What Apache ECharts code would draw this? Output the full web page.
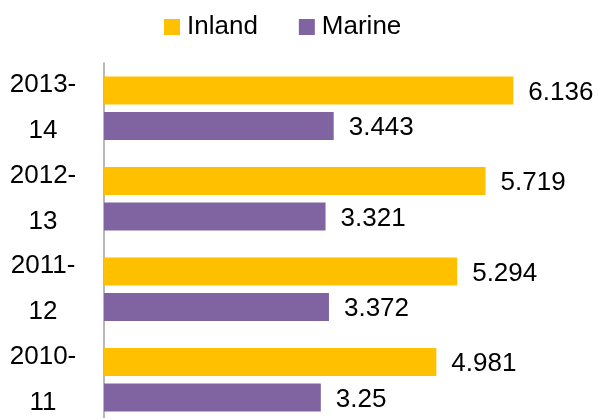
<!DOCTYPE html>
<html>
<head>
<meta charset="utf-8">
<script src="https://cdn.jsdelivr.net/npm/echarts@6/dist/echarts.min.js"></script>
<style>
  html, body { margin: 0; padding: 0; background: #fff; }
  #chart { width: 599px; height: 418px; }
</style>
</head>
<body>
<div id="chart"></div>
<script>
// Fish production by year (million tonnes)
const years = ['2013-14', '2012-13', '2011-12', '2010-11'];
const inland = [6.136, 5.719, 5.294, 4.981];
const marine = [3.443, 3.321, 3.372, 3.25];
const seriesNames = ['Inland', 'Marine'];

const FONT = 'Liberation Sans, Arial, sans-serif';
const chart = echarts.init(document.getElementById('chart'), null, { renderer: 'canvas' });

const valueLabel = {
  show: true,
  position: 'right',
  distance: 15,
  color: '#000',
  fontSize: 26,
  fontFamily: FONT,
  offset: [0, 2]
};

chart.setOption({
  animation: false,
  legend: {
    data: seriesNames,
    left: 159,
    top: 9,
    icon: 'rect',
    itemWidth: 16,
    itemHeight: 16,
    itemGap: 41,
    textStyle: { fontSize: 26, color: '#000', fontFamily: FONT, padding: [0, 0, 0, 2] }
  },
  grid: {
    left: 104,
    right: 28,
    top: 63,
    height: 362,
    outerBoundsMode: 'none'
  },
  xAxis: {
    type: 'value',
    min: 0,
    max: 7,
    show: false,
    splitLine: { show: false }
  },
  yAxis: {
    type: 'category',
    data: years,
    inverse: true,
    axisTick: { show: false },
    axisLine: { lineStyle: { color: '#a0a0a0', width: 1.5 } },
    axisLabel: {
      interval: 0,
      hideOverlap: false,
      formatter: v => v.replace('-', '-\n'),
      align: 'center',
      margin: 61,
      fontSize: 26,
      lineHeight: 46,
      color: '#000',
      fontFamily: FONT
    }
  },
  series: [
    {
      name: seriesNames[0],
      type: 'bar',
      data: inland,
      barWidth: 28,
      barGap: '26%',
      itemStyle: { color: '#FFC000' },
      label: valueLabel
    },
    {
      name: seriesNames[1],
      type: 'bar',
      data: marine,
      barWidth: 28,
      barGap: '26%',
      itemStyle: { color: '#8064A2' },
      label: valueLabel
    }
  ]
});
</script>
</body>
</html>
